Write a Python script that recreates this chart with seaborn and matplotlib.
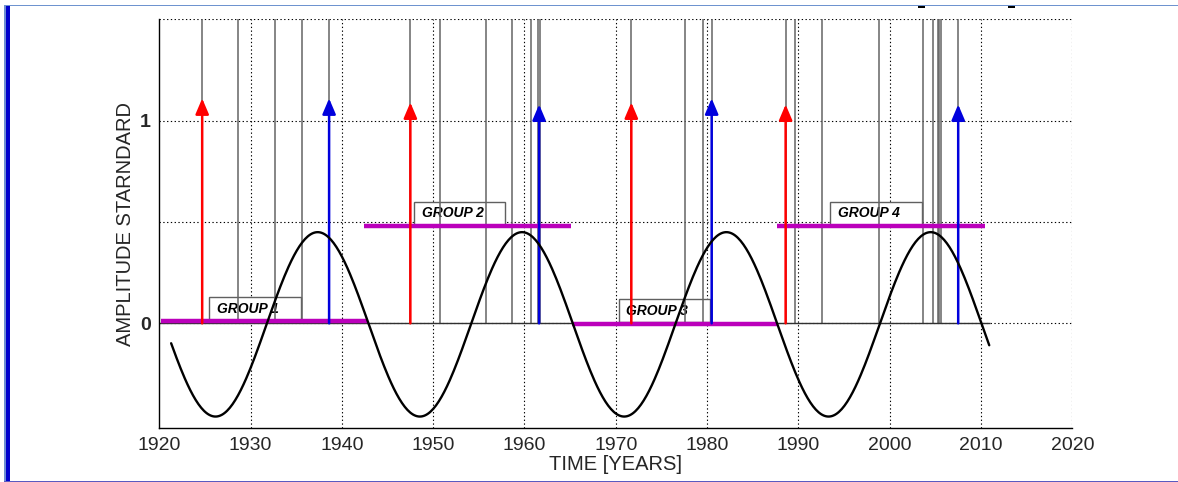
import numpy as np
import pandas as pd
import matplotlib
matplotlib.use("Agg")
import matplotlib.pyplot as plt
import seaborn as sns
from matplotlib.patches import Rectangle

# ---------------- data ----------------
event_years = [1924.7, 1928.6, 1932.7, 1935.6, 1938.6, 1947.5, 1950.7, 1955.8,
               1958.6, 1960.7, 1961.5, 1961.7, 1971.7, 1977.6, 1979.6, 1980.5,
               1988.6, 1989.6, 1992.6, 1998.8, 2003.6, 2004.7, 2005.3, 2005.45,
               2005.6, 2007.5]
event_top = 1.5

red_years = [1924.7, 1947.5, 1971.7, 1988.6]
red_heights = [1.11, 1.09, 1.09, 1.08]
blue_years = [1938.6, 1961.6, 1980.5, 2007.5]
blue_heights = [1.11, 1.08, 1.11, 1.08]

group_names = ["GROUP 1", "GROUP 2", "GROUP 3", "GROUP 4"]
group_start = [1920.2, 1942.4, 1965.2, 1987.7]
group_end = [1942.9, 1965.1, 1987.7, 2010.4]
group_level = [0.01, 0.48, -0.005, 0.48]

# fitted cycle (sinusoid) parameters
cycle_start = 1921.3
cycle_end = 2010.9
cycle_period = 22.38
cycle_peak_year = 1937.35
cycle_amplitude = 0.455
cycle_offset = -0.005

x_ticks = [1920, 1930, 1940, 1950, 1960, 1970, 1980, 1990, 2000, 2010, 2020]
y_ticks = [0, 0.5, 1, 1.5]
y_tick_labels = ["0", "", "1", ""]

x_label = "TIME [YEARS]"
y_label = "AMPLITUDE STARNDARD"

# ---------------- styling ----------------
sns.set_style("white")
plt.rcParams["font.family"] = ["Liberation Sans", "DejaVu Sans"]

fig = plt.figure(figsize=(11.78, 4.82), dpi=100)
ax = fig.add_axes([0.1352, 0.1114, 0.9103 - 0.1352, 0.9606 - 0.1114])

# layout for the group label boxes
label_box_x = [1925.5, 1947.9, 1970.3, 1993.5]
label_box_w = 10.0
label_box_h = 0.115

# grid
for xt in x_ticks[1:]:
    ax.axvline(xt, color="black", lw=0.8, ls=(0, (1.2, 2.2)), zorder=0.5)
for yt in y_ticks:
    ax.axhline(yt, color="black", lw=0.8, ls=(0, (1.2, 2.2)), zorder=0.5)

# group label boxes (below stems)
for name, bx, lvl in zip(group_names, label_box_x, group_level):
    lvl_b = max(lvl, 0.0) + 0.005
    ax.add_patch(Rectangle((bx, lvl_b), label_box_w, label_box_h, facecolor="white",
                           edgecolor="#606060", lw=1.0, zorder=1))
    ax.text(bx + 0.85, lvl_b + label_box_h / 2, name, fontsize=10, fontweight="bold",
            fontstyle="italic", va="center", ha="left", color="black", zorder=1.5)

# stems and baseline
ax.vlines(event_years, 0, event_top, colors="#646464", lw=1.1, zorder=2)
ax.hlines(0, 1920, 2011, colors="#303030", lw=1.0, zorder=2)

# group bars
for s, e, lvl in zip(group_start, group_end, group_level):
    ax.plot([s, e], [lvl, lvl], color="#bb00bb", lw=3.2, solid_capstyle="butt", zorder=3)

# arrows
def draw_arrows(years, heights, color):
    for yr, h in zip(years, heights):
        ax.annotate("", xy=(yr, h), xytext=(yr, 0), zorder=4,
                    arrowprops=dict(arrowstyle="-|>,head_length=0.47,head_width=0.2",
                                    mutation_scale=20, lw=1.8, color=color,
                                    shrinkA=0, shrinkB=0))

draw_arrows(red_years, red_heights, "#ff0000")
draw_arrows(blue_years, blue_heights, "#0000dd")

# cycle curve
t = np.linspace(cycle_start, cycle_end, 600)
curve = pd.DataFrame({"year": t,
                      "amp": cycle_offset + cycle_amplitude *
                      np.cos(2 * np.pi * (t - cycle_peak_year) / cycle_period)})
sns.lineplot(data=curve, x="year", y="amp", ax=ax, color="black", lw=1.7, zorder=5)

ax.set_xlim(1920, 2020)
ax.set_ylim(-0.518, 1.502)
ax.set_xticks(x_ticks)
ax.set_xticklabels([str(v) for v in x_ticks], fontsize=14)
ax.set_yticks(y_ticks)
ax.set_yticklabels(y_tick_labels, fontsize=14, fontweight="bold")
ax.tick_params(axis="both", direction="in", length=4, width=0.8, color="black", pad=6)
ax.set_xlabel(x_label, fontsize=14.5, labelpad=1)
ax.set_ylabel(y_label, fontsize=14.5, labelpad=4)

for side in ["top", "right"]:
    ax.spines[side].set_visible(False)
for side in ["left", "bottom"]:
    ax.spines[side].set_color("black")
    ax.spines[side].set_linewidth(1.0)

# page decoration (border of the original slide)
W, H = 1178, 482
fig.add_artist(Rectangle((4 / W, 0), 2 / W, (H - 5) / H, transform=fig.transFigure,
                         facecolor="#6f8fd0", edgecolor="none"))
fig.add_artist(Rectangle((6 / W, 0), 4 / W, (H - 5) / H, transform=fig.transFigure,
                         facecolor="#0000cc", edgecolor="none"))
fig.add_artist(Rectangle((4 / W, (H - 6) / H), (W - 4) / W, 1.5 / H,
                         transform=fig.transFigure, facecolor="#6e93cf", edgecolor="none"))
fig.add_artist(Rectangle((4 / W, 0), (W - 4) / W, 1.5 / H,
                         transform=fig.transFigure, facecolor="#5a5ac0", edgecolor="none"))
for mx in (918, 1008):
    fig.add_artist(Rectangle((mx / W, (H - 8) / H), 7 / W, 2.5 / H,
                             transform=fig.transFigure, facecolor="black", edgecolor="none"))

fig.savefig("out.png", dpi=100)
